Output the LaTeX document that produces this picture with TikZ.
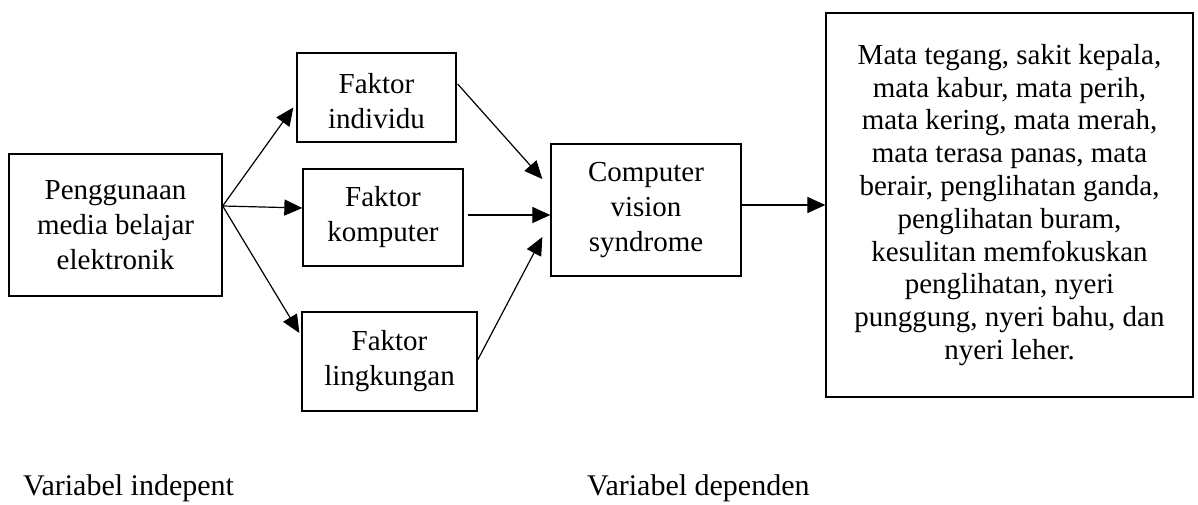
\documentclass[tikz,border=0pt]{standalone}
\usepackage{fontspec}
\setmainfont{Liberation Serif}
\usetikzlibrary{arrows.meta}
\begin{document}
\begin{tikzpicture}[x=1pt,y=-1pt,
  box/.style={draw, line width=1.3pt, rectangle, inner sep=0pt, align=center,
    font=\fontsize{29}{35}\selectfont},
  link/.style={line width=1.2pt, -{Triangle[length=18pt,width=16pt]}},
  caption/.style={anchor=base west, inner sep=0pt, font=\fontsize{30}{36}\selectfont}]
\useasboundingbox (0,0) rectangle (1198,505);

% boxes
\node[box, minimum width=213pt, minimum height=142pt] (use) at (115.5,225)
  {Penggunaan\\media belajar\\elektronik};
\node[box, minimum width=159pt, minimum height=89pt] (ind) at (376.5,97.5)
  {\rule{0pt}{27pt}Faktor\\individu};
\node[box, minimum width=160pt, minimum height=97pt] (kom) at (383,217.5)
  {Faktor\\komputer};
\node[box, minimum width=175pt, minimum height=99pt] (lin) at (389.5,361.5)
  {Faktor\\lingkungan};
\node[box, minimum width=190pt, minimum height=132pt] (cvs) at (646,210)
  {Computer\\vision\\syndrome};
\node[box, minimum width=367pt, minimum height=384pt,
      font=\fontsize{29}{32.8}\selectfont] (res) at (1009.5,205)
  {Mata tegang, sakit kepala,\\
   mata kabur, mata perih,\\
   mata kering, mata merah,\\
   mata terasa panas, mata\\
   berair, penglihatan ganda,\\
   penglihatan buram,\\
   kesulitan memfokuskan\\
   penglihatan, nyeri\\
   punggung, nyeri bahu, dan\\
   nyeri leher.};

% connectors
\coordinate (fork) at ([yshift=19pt]use.east);
\draw[link] (fork) -- ([xshift=-3pt,yshift=-10pt]ind.west);
\draw[link] (fork) -- ([yshift=9.5pt]kom.west);
\draw[link] (fork) -- ([xshift=-2pt,yshift=28.5pt]lin.west);
\draw[link] ([xshift=1pt,yshift=13.5pt]ind.east) -- ([xshift=-8pt,yshift=31pt]cvs.west);
\draw[link] ([xshift=4pt,yshift=2.5pt]kom.east) -- ([yshift=-5pt]cvs.west);
\draw[link] ([yshift=1.5pt]lin.east) -- ([xshift=-8pt,yshift=-27pt]cvs.west);
\draw[link] (cvs.east |- res.west) -- (res.west);

% captions
\node[caption] (indep) at (23,495) {Variabel indepent};
\node[caption] (dep) at (587,495) {Variabel dependen};
\end{tikzpicture}
\end{document}
